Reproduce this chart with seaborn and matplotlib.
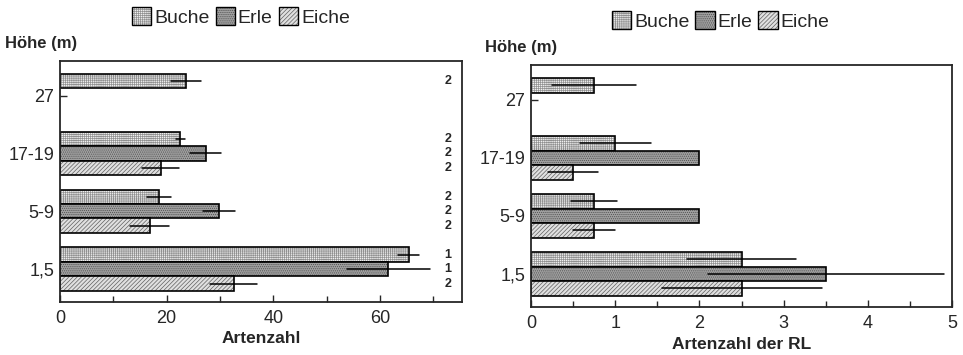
import numpy as np
import pandas as pd
import matplotlib
matplotlib.use("Agg")
import matplotlib.pyplot as plt
import matplotlib.patches as mpatches
from matplotlib.colors import to_rgba
import seaborn as sns

# ------------------------
# Data
# ------------------------
heights = ["27", "17-19", "5-9", "1,5"]
species = ["Buche", "Erle", "Eiche"]

# Artenzahl (mean, sd) per height, order Buche / Erle / Eiche
arten_mean = {
    "Buche": [23.6, 22.6, 18.6, 65.4],
    "Erle":  [np.nan, 27.3, 29.8, 61.6],
    "Eiche": [np.nan, 18.9, 16.8, 32.6],
}
arten_sd = {
    "Buche": [2.8, 0.9, 2.2, 2.0],
    "Erle":  [np.nan, 2.9, 3.0, 7.8],
    "Eiche": [np.nan, 3.5, 3.6, 4.4],
}
n_plots = {
    "Buche": ["2", "2", "2", "1"],
    "Erle":  ["", "2", "2", "1"],
    "Eiche": ["", "2", "2", "2"],
}

# Artenzahl der Roten Liste (mean, sd)
rl_mean = {
    "Buche": [0.75, 1.0, 0.75, 2.5],
    "Erle":  [np.nan, 2.0, 2.0, 3.5],
    "Eiche": [np.nan, 0.5, 0.75, 2.5],
}
rl_sd = {
    "Buche": [0.5, 0.42, 0.27, 0.65],
    "Erle":  [np.nan, 0.0, 0.0, 1.4],
    "Eiche": [np.nan, 0.3, 0.25, 0.95],
}

styles = {
    "Buche": dict(facecolor="#f0f0f0", hatch="++++++++", hatchcolor="#909090"),
    "Erle":  dict(facecolor="#a0a0a0", hatch="........", hatchcolor="#505050"),
    "Eiche": dict(facecolor="#e0e0e0", hatch="////////", hatchcolor="#606060"),
}


def long_table(means, sds):
    rows = []
    for sp in species:
        for h, m, s in zip(heights, means[sp], sds[sp]):
            rows.append({"Höhe": h, "Art": sp, "Wert": m, "sd": s})
    return pd.DataFrame(rows)


def style_patch(p, sp, lw):
    p.set_facecolor(styles[sp]["facecolor"])
    p.set_hatch(styles[sp]["hatch"])
    p.set_edgecolor("black")
    p.set_linewidth(lw)
    # grey hatch lines, black outline
    if hasattr(p, "set_hatchcolor"):
        p.set_hatchcolor(styles[sp]["hatchcolor"])
    else:
        p._hatch_color = to_rgba(styles[sp]["hatchcolor"])


sns.set_style("ticks")
plt.rcParams["font.family"] = ["Liberation Sans", "DejaVu Sans"]
plt.rcParams["hatch.linewidth"] = 0.5

fig = plt.figure(figsize=(9.63, 3.55), dpi=100)
ax1 = fig.add_axes([0.0623, 0.1493, 0.4174, 0.679])
ax2 = fig.add_axes([0.5514, 0.1352, 0.4372, 0.6817])


def draw_panel(ax, df, xmax, major, minor, xlabel):
    sns.barplot(data=df.dropna(subset=["Wert"]), y="Höhe", x="Wert", hue="Art",
                order=heights, hue_order=species, orient="h", width=0.75,
                errorbar=None, legend=False, ax=ax)
    # styling + error bars from the drawn bars
    for cont, sp in zip(ax.containers, species):
        sub = df[df["Art"] == sp].set_index("Höhe")
        for bar in cont:
            style_patch(bar, sp, 1.2)
            yc = bar.get_y() + bar.get_height() / 2
            h = heights[int(round(yc))]
            m, s = sub.loc[h, "Wert"], sub.loc[h, "sd"]
            if s > 0:
                ax.plot([m - s, m + s], [yc, yc], color="black", lw=1.1, zorder=5)
    ax.set_xlim(0, xmax)
    ax.set_ylim(3.57, -0.6)
    ax.set_xticks(major)
    ax.set_xticks(minor, minor=True)
    ax.tick_params(axis="both", direction="in", labelsize=13, length=5, width=1)
    ax.tick_params(axis="x", which="minor", direction="in", length=4, width=1)
    ax.tick_params(axis="x", pad=6)
    ax.tick_params(axis="y", length=5, pad=4)
    ax.set_ylabel("")
    ax.set_xlabel(xlabel, fontsize=12.5, fontweight="bold", labelpad=3)
    for sp in ax.spines.values():
        sp.set_linewidth(1.3)
    handles = []
    for s in species:
        p = mpatches.Patch(label=s)
        style_patch(p, s, 1)
        handles.append(p)
    ax.legend(handles=handles, loc="lower center", bbox_to_anchor=(0.45, 1.11), ncol=3,
              frameon=False, fontsize=14, handlelength=1.0, handleheight=1.0,
              handletextpad=0.15, columnspacing=0.3, borderaxespad=0)


draw_panel(ax1, long_table(arten_mean, arten_sd), 75.4, [0, 20, 40, 60],
           [10, 30, 50, 70], "Artenzahl")
draw_panel(ax2, long_table(rl_mean, rl_sd), 5, [0, 1, 2, 3, 4, 5],
           [0.5, 1.5, 2.5, 3.5, 4.5], "Artenzahl der RL")

# number of plots at the right edge of the left panel
for i, sp in enumerate(species):
    off = (i - 1) * 0.25
    for j, lab in enumerate(n_plots[sp]):
        if lab:
            ax1.text(0.965, j + off, lab, transform=ax1.get_yaxis_transform(),
                     ha="center", va="center", fontsize=9, fontweight="bold")

fig.text(0.005, 0.878, "Höhe (m)", fontsize=12, fontweight="bold", ha="left", va="center")
fig.text(0.504, 0.867, "Höhe (m)", fontsize=12, fontweight="bold", ha="left", va="center")

fig.savefig("out.png", dpi=100)
